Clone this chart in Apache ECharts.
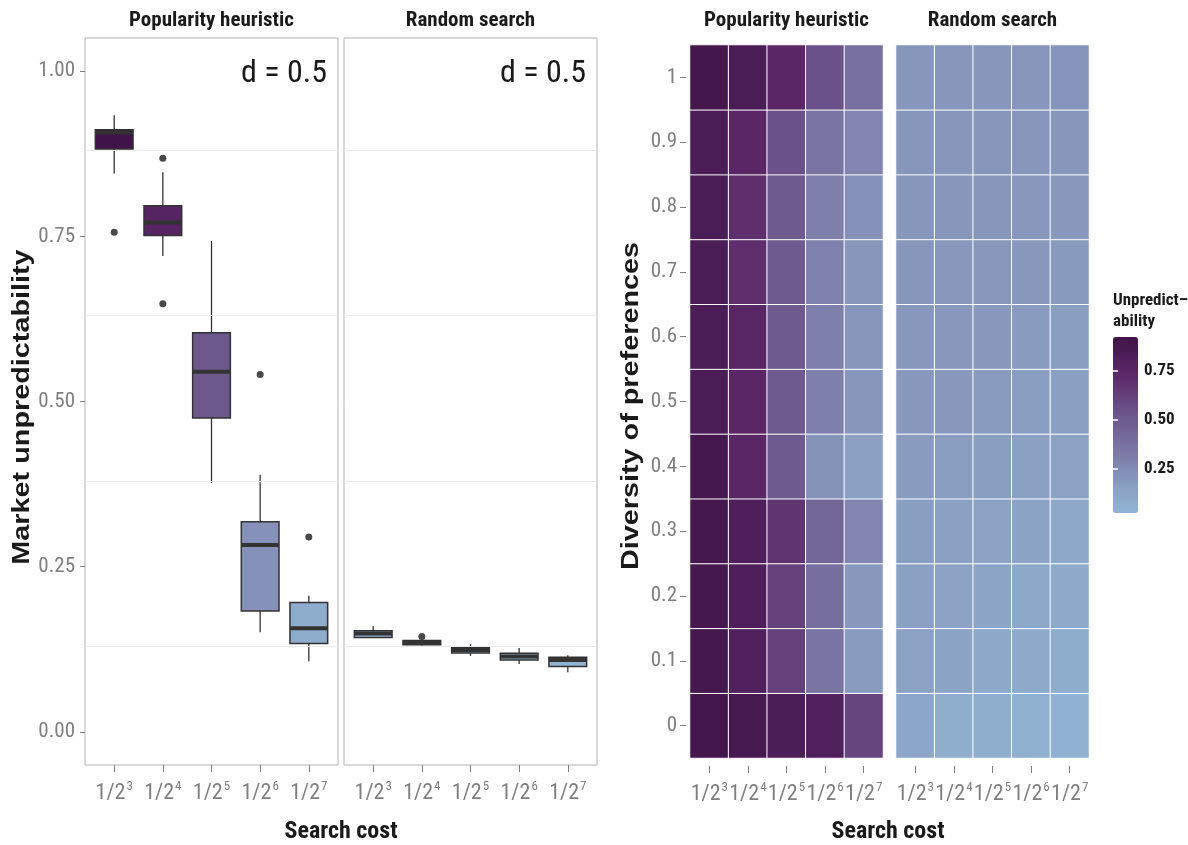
<!DOCTYPE html>
<html><head><meta charset="utf-8">
<script src="https://cdn.jsdelivr.net/npm/echarts@6.0.0/dist/echarts.min.js"></script>
<style>html,body{margin:0;padding:0;background:#fff}#c{width:1188px;height:845px}</style>
</head><body><div id="c"></div>
<script>
// ---------------- data ----------------
const costLabels = ['1/2^3', '1/2^4', '1/2^5', '1/2^6', '1/2^7'];
const diversityLabels = ['0', '0.1', '0.2', '0.3', '0.4', '0.5', '0.6', '0.7', '0.8', '0.9', '1'];
const panelNames = ['Popularity heuristic', 'Random search'];
const boxYTicks = [0, 0.25, 0.5, 0.75, 1];
const boxMinorGrid = [0.125, 0.375, 0.625, 0.875];
const legendTicks = [0.25, 0.5, 0.75];
const heatRange = [0.025, 0.92];

// boxplots (d = 0.5): [lower whisker, Q1, median, Q3, upper whisker]
const popBox = [
  [0.845, 0.882, 0.907, 0.911, 0.933],
  [0.720, 0.751, 0.771, 0.796, 0.847],
  [0.377, 0.475, 0.545, 0.604, 0.743],
  [0.151, 0.183, 0.283, 0.318, 0.389],
  [0.107, 0.134, 0.157, 0.196, 0.206]
];
const randBox = [
  [0.142, 0.143, 0.149, 0.153, 0.160],
  [0.131, 0.132, 0.1355, 0.1385, 0.139],
  [0.115, 0.1195, 0.124, 0.128, 0.133],
  [0.103, 0.109, 0.114, 0.119, 0.127],
  [0.0905, 0.099, 0.109, 0.113, 0.116]
];
const popOutliers = [['1/2^3', 0.756], ['1/2^4', 0.868], ['1/2^4', 0.648], ['1/2^6', 0.541], ['1/2^7', 0.295]];
const randOutliers = [['1/2^4', 0.1445]];

// heatmaps: rows = diversity 0 .. 1, columns = cost 1/2^3 .. 1/2^7
const popHeat = [
  [0.90, 0.87, 0.83, 0.80, 0.60],
  [0.88, 0.80, 0.62, 0.36, 0.17],
  [0.88, 0.82, 0.62, 0.39, 0.18],
  [0.88, 0.82, 0.68, 0.44, 0.27],
  [0.88, 0.75, 0.50, 0.21, 0.15],
  [0.84, 0.75, 0.50, 0.30, 0.19],
  [0.84, 0.76, 0.50, 0.30, 0.19],
  [0.84, 0.70, 0.50, 0.29, 0.19],
  [0.84, 0.70, 0.50, 0.30, 0.22],
  [0.84, 0.75, 0.55, 0.36, 0.27],
  [0.89, 0.84, 0.75, 0.55, 0.38]
];
const randHeat = [
  [0.11, 0.07, 0.06, 0.05, 0.04],
  [0.14, 0.13, 0.10, 0.09, 0.08],
  [0.15, 0.14, 0.12, 0.10, 0.09],
  [0.16, 0.15, 0.14, 0.13, 0.10],
  [0.17, 0.165, 0.16, 0.15, 0.14],
  [0.18, 0.18, 0.17, 0.16, 0.155],
  [0.185, 0.18, 0.18, 0.17, 0.16],
  [0.19, 0.185, 0.185, 0.18, 0.175],
  [0.19, 0.19, 0.19, 0.185, 0.18],
  [0.19, 0.195, 0.19, 0.195, 0.19],
  [0.195, 0.195, 0.195, 0.195, 0.20]
];

// ---------------- colour scale (anchors in value space) ----------------
const colourAnchors = [
  [0.025, '#91b3d3'], [0.05, '#90b0d0'], [0.15, '#8aa1c3'], [0.19, '#8797bb'],
  [0.22, '#8591b9'], [0.30, '#7f7fab'], [0.38, '#7770a0'], [0.50, '#6e5a8e'],
  [0.55, '#6b5189'], [0.70, '#5f2e6d'], [0.75, '#5a2667'], [0.84, '#4a1d56'],
  [0.90, '#43164c'], [0.92, '#40134a']
];
function hex2rgb(h){return [1,3,5].map(i=>parseInt(h.substr(i,2),16));}
function rampFromAnchors(anchors, lo, hi, n){
  const out=[];
  for(let i=0;i<n;i++){
    const v = lo + (hi-lo)*i/(n-1);
    let k=0; while(k<anchors.length-2 && v>anchors[k+1][0]) k++;
    const a=anchors[k], b=anchors[k+1];
    const t=Math.max(0,Math.min(1,(v-a[0])/(b[0]-a[0])));
    const ca=hex2rgb(a[1]), cb=hex2rgb(b[1]);
    out.push('#'+ca.map((c,j)=>Math.round(c+(cb[j]-c)*t).toString(16).padStart(2,'0')).join(''));
  }
  return out;
}
const ramp = rampFromAnchors(colourAnchors, heatRange[0], heatRange[1], 41);

const COND = '"Roboto Condensed","Open Sans Condensed","DejaVu Sans Condensed",sans-serif';
const GREY = '#7f7f7f', DARK = '#1a1a1a', LINE = '#333333';
function costFmt(lbl){const p=lbl.split('^');return '{b|'+p[0]+'}{s|'+p[1]+'}';}
const costRich = {
  b:{fontSize:22,color:GREY,fontFamily:COND,lineHeight:26},
  s:{fontSize:13,color:GREY,fontFamily:COND,lineHeight:13,verticalAlign:'top',padding:[0,0,0,1]}
};

const boxToData = arr => arr.map((b,i)=>[i+1].concat(b));
const outToData = arr => arr.map(o=>[costLabels.indexOf(o[0])+1, o[1]]);
const heatToData = m => { const d=[]; m.forEach((row,di)=>row.forEach((v,ci)=>d.push([ci,di,v]))); return d; };
const medians = popBox.concat(randBox).map(b=>b[2]);
const BOXW = 0.775;

function renderBox(params, api){
  const x = api.value(0);
  const lo = api.coord([x, api.value(1)]);
  const q1 = api.coord([x, api.value(2)]);
  const md = api.coord([x, api.value(3)]);
  const q3 = api.coord([x, api.value(4)]);
  const hi = api.coord([x, api.value(5)]);
  const w = api.size([BOXW, 0])[0];
  const fill = api.visual('color');
  return {type:'group', children:[
    {type:'line', shape:{x1:lo[0],y1:lo[1],x2:q1[0],y2:q1[1]}, style:{stroke:LINE,lineWidth:1.3}},
    {type:'line', shape:{x1:q3[0],y1:q3[1],x2:hi[0],y2:hi[1]}, style:{stroke:LINE,lineWidth:1.3}},
    {type:'rect', shape:{x:q3[0]-w/2,y:q3[1],width:w,height:q1[1]-q3[1]}, style:{fill:fill,stroke:LINE,lineWidth:1.5}},
    {type:'line', shape:{x1:md[0]-w/2,y1:md[1],x2:md[0]+w/2,y2:md[1]}, style:{stroke:LINE,lineWidth:4}}
  ]};
}

function boxXAxis(gi){
  return {gridIndex:gi, type:'value', min:0.4, max:5.6,
    axisLine:{show:false, onZero:false}, splitLine:{show:false},
    axisTick:{show:true, length:7, customValues:[1,2,3,4,5], lineStyle:{color:GREY,width:1}},
    axisLabel:{customValues:[1,2,3,4,5], margin:15, formatter:v=>costFmt(costLabels[Math.round(v)-1]), rich:costRich}};
}
function boxYAxis(gi, labels){
  return {gridIndex:gi, type:'value', min:-0.05, max:1.05,
    axisLine:{show:false, onZero:false}, splitLine:{show:false},
    axisTick:{show:labels, length:5, customValues:boxYTicks, lineStyle:{color:GREY,width:1}},
    axisLabel:{show:labels, customValues:boxYTicks, margin:10, formatter:v=>v.toFixed(2), fontSize:21, color:GREY, fontFamily:COND}};
}
function heatXAxis(gi){
  return {gridIndex:gi, type:'category', data:costLabels, offset:8,
    axisLine:{show:false}, splitLine:{show:false},
    axisTick:{show:true, alignWithLabel:true, length:7, lineStyle:{color:GREY,width:1}},
    axisLabel:{interval:0, margin:15, formatter:costFmt, rich:costRich}};
}
function heatYAxis(gi, labels){
  return {gridIndex:gi, type:'category', data:diversityLabels, offset:4,
    axisLine:{show:false}, splitLine:{show:false},
    axisTick:{show:labels, alignWithLabel:true, length:6, lineStyle:{color:GREY,width:1}},
    axisLabel:{show:labels, interval:0, margin:9, fontSize:21, color:GREY, fontFamily:COND}};
}
const gridBase = {containLabel:false, outerBoundsMode:'none'};

function txt(text, x, y, font, opts){
  opts = opts || {};
  return {type:'text', x:x, y:y, rotation:opts.rotation||0, scaleX:opts.scaleX||1, scaleY:opts.scaleY||1, silent:true, z:20,
    style:{text:text, font:font, fill:opts.fill||DARK, align:opts.align||'center', textAlign:opts.align||'center',
      verticalAlign:opts.va||'middle', textVerticalAlign:opts.va||'middle', lineHeight:opts.lineHeight}};
}

const chart = echarts.init(document.getElementById('c'), null, {renderer:'canvas'});
chart.setOption({
  backgroundColor:'#ffffff',
  animation:false,
  grid:[
    Object.assign({left:85, top:38, width:253, height:727, show:true, borderColor:'#b3b3b3', borderWidth:1, backgroundColor:'#fff'}, gridBase),
    Object.assign({left:344, top:38, width:253, height:727, show:true, borderColor:'#b3b3b3', borderWidth:1, backgroundColor:'#fff'}, gridBase),
    Object.assign({left:690, top:45, width:193, height:713}, gridBase),
    Object.assign({left:896, top:45, width:193, height:713}, gridBase),
    Object.assign({left:1113, top:337, width:25, height:176}, gridBase)
  ],
  xAxis:[boxXAxis(0), boxXAxis(1), heatXAxis(2), heatXAxis(3), {gridIndex:4, type:'value', show:false, min:0, max:1}],
  yAxis:[boxYAxis(0,true), boxYAxis(1,false), heatYAxis(2,true), heatYAxis(3,false),
    {gridIndex:4, type:'value', min:heatRange[0], max:heatRange[1], position:'right', z:10,
      axisLine:{show:false}, splitLine:{show:false},
      axisTick:{show:true, inside:true, length:5, customValues:legendTicks, lineStyle:{color:'#ffffff',width:1.5}},
      axisLabel:{customValues:legendTicks, formatter:v=>v.toFixed(2), margin:6, fontSize:17, fontWeight:'bold', color:DARK, fontFamily:COND}},
    {gridIndex:4, type:'value', min:heatRange[0], max:heatRange[1], position:'left', z:10,
      axisLine:{show:false}, splitLine:{show:false},
      axisTick:{show:true, inside:true, length:5, customValues:legendTicks, lineStyle:{color:'#ffffff',width:1.5}},
      axisLabel:{show:false}}
  ],
  visualMap:[
    {type:'continuous', seriesIndex:[6,7], dimension:2, min:heatRange[0], max:heatRange[1],
      calculable:false, show:true, left:1113, top:337, itemWidth:25, itemHeight:176, padding:0,
      hoverLink:false, inRange:{color:ramp}},
    {type:'continuous', seriesIndex:[0,1], dimension:3, min:Math.min.apply(null,medians), max:Math.max.apply(null,medians),
      show:false, inRange:{color:ramp}}
  ],
  series:[
    {type:'custom', xAxisIndex:0, yAxisIndex:0, z:3, renderItem:renderBox, encode:{x:0, y:[1,2,3,4,5]}, data:boxToData(popBox), silent:true},
    {type:'custom', xAxisIndex:1, yAxisIndex:1, z:3, renderItem:renderBox, encode:{x:0, y:[1,2,3,4,5]}, data:boxToData(randBox), silent:true},
    {type:'scatter', xAxisIndex:0, yAxisIndex:0, z:5, symbolSize:7, itemStyle:{color:DARK}, data:outToData(popOutliers), silent:true},
    {type:'scatter', xAxisIndex:1, yAxisIndex:1, z:5, symbolSize:7, itemStyle:{color:DARK}, data:outToData(randOutliers), silent:true},
    {type:'line', xAxisIndex:0, yAxisIndex:0, z:1, data:[], markLine:{silent:true, symbol:'none', label:{show:false}, lineStyle:{color:'#ebebeb', type:'solid', width:1}, data:boxMinorGrid.map(v=>({yAxis:v}))}},
    {type:'line', xAxisIndex:1, yAxisIndex:1, z:1, data:[], markLine:{silent:true, symbol:'none', label:{show:false}, lineStyle:{color:'#ebebeb', type:'solid', width:1}, data:boxMinorGrid.map(v=>({yAxis:v}))}},
    {type:'heatmap', xAxisIndex:2, yAxisIndex:2, data:heatToData(popHeat), itemStyle:{borderColor:'#ffffff', borderWidth:1}, emphasis:{disabled:true}, silent:true},
    {type:'heatmap', xAxisIndex:3, yAxisIndex:3, data:heatToData(randHeat), itemStyle:{borderColor:'#ffffff', borderWidth:1}, emphasis:{disabled:true}, silent:true}
  ],
  graphic:[
    txt(panelNames[0], 211.5, 21, 'bold 21px '+COND),
    txt(panelNames[1], 470.5, 21, 'bold 21px '+COND),
    txt(panelNames[0], 786.5, 21, 'bold 21px '+COND),
    txt(panelNames[1], 992.5, 21, 'bold 21px '+COND),
    txt('d = 0.5', 327, 74, '32px '+COND, {align:'right'}),
    txt('d = 0.5', 586, 74, '32px '+COND, {align:'right'}),
    txt('Search cost', 341, 832, 'bold 24px '+COND),
    txt('Search cost', 888, 832, 'bold 24px '+COND),
    txt('Market unpredictability', 22, 407, 'bold 24px "Liberation Sans",sans-serif', {rotation:Math.PI/2, scaleX:1.2}),
    txt('Diversity of preferences', 631, 406, 'bold 24px "Liberation Sans",sans-serif', {rotation:Math.PI/2, scaleX:1.2}),
    txt('Unpredict\u2013\nability', 1113, 290, 'bold 17px '+COND, {align:'left', va:'top', lineHeight:21})
  ]
});
</script></body></html>
